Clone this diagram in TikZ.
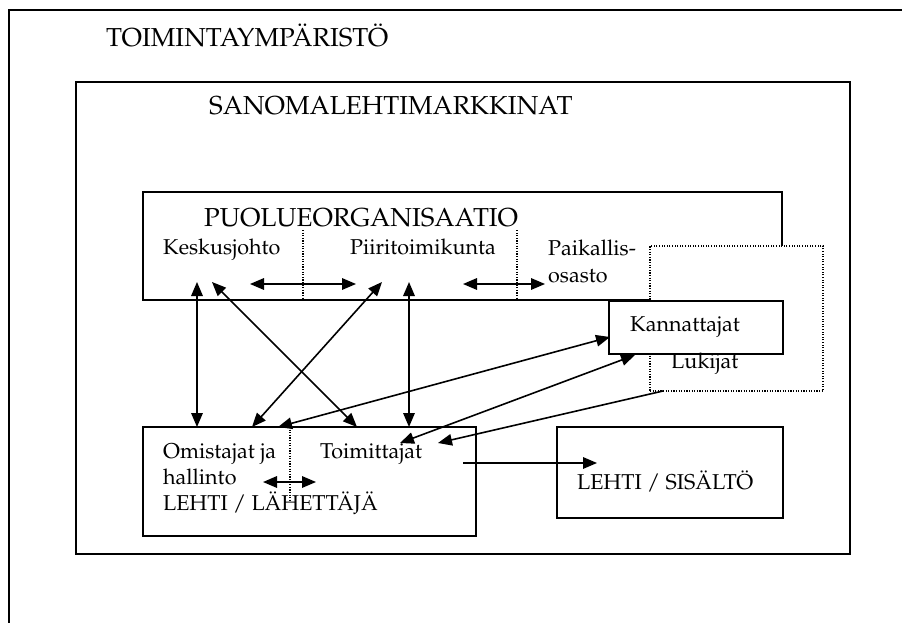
\documentclass[tikz,border=0pt]{standalone}
\usepackage[T1]{fontenc}
\usepackage{mathpazo}
\usetikzlibrary{arrows.meta}

\begin{document}
\begin{tikzpicture}[x=1pt,y=-1pt,
  frame/.style={draw, line width=1.6pt, inner sep=0pt, outer sep=0pt,
                anchor=north west, fill=white},
  dotframe/.style={frame, line width=1.1pt, dash pattern=on 1.1pt off 1.5pt},
  divider/.style={line width=1.1pt, dash pattern=on 1.1pt off 1.5pt},
  bigtxt/.style={anchor=base west, inner sep=0pt, font=\fontsize{26}{30}\selectfont},
  txt/.style={anchor=base west, inner sep=0pt, font=\fontsize{21.5}{25}\selectfont},
  both/.style={line width=1.6pt, {Triangle[length=14pt,width=11.5pt]}-{Triangle[length=14pt,width=11.5pt]}},
  single/.style={line width=1.6pt, -{Triangle[length=14pt,width=11.5pt]}}
]
\useasboundingbox (0,0) rectangle (902,623);

% operating environment: only its top and left sides fall on the page
\coordinate (envbl) at (9,623);
\coordinate (envtl) at (9,10);
\coordinate (envtr) at (902,10);
\draw[line width=1.5pt] (envbl) -- (envtl) -- (envtr);
\node[bigtxt] (envlabel) at (106,47) {TOIMINTAYMPÄRISTÖ};

% newspaper market
\node[frame, minimum width=774pt, minimum height=472pt] (market) at (76,82) {};
\node[bigtxt] (marketlabel) at (209,115) {SANOMALEHTIMARKKINAT};

% party organisation
\node[frame, minimum width=639pt, minimum height=108pt] (party) at (143,192) {};
\node[bigtxt] (partylabel) at (204,226) {PUOLUEORGANISAATIO};
\coordinate (pd1t) at (303,230);
\coordinate (pd1b) at (303,300);
\coordinate (pd2t) at (517,230);
\coordinate (pd2b) at (517,300);
\draw[divider] (pd1t) -- (pd1b);
\draw[divider] (pd2t) -- (pd2b);
\node[txt] (central) at (163,254) {Keskusjohto};
\node[txt] (district) at (350,254) {Piiritoimikunta};
\node[txt] (local1) at (548,255) {Paikallis-};
\node[txt] (local2) at (548,282) {osasto};

% readers and supporters
\node[dotframe, minimum width=173pt, minimum height=145pt] (readers) at (650,246) {};
\node[frame, minimum width=174pt, minimum height=53pt] (supporters) at (609,301) {};
\node[txt] (suplabel) at (630,331) {Kannattajat};
\node[txt] (readlabel) at (671,368) {Lukijat};

% the paper as sender
\node[frame, minimum width=333pt, minimum height=109pt] (sender) at (143,427) {};
\coordinate (sdt) at (290,427);
\coordinate (sdb) at (290,500);
\draw[divider] (sdt) -- (sdb);
\node[txt] (owners1) at (163,458) {Omistajat ja};
\node[txt] (owners2) at (163,484) {hallinto};
\node[txt] (senderlabel) at (163,510) {LEHTI / LÄHETTÄJÄ};
\node[txt] (editors) at (320,458) {Toimittajat};

% the paper as content
\node[frame, minimum width=226pt, minimum height=91pt] (content) at (557,427) {};
\node[txt] (contentlabel) at (577,489) {LEHTI / SISÄLTÖ};

% arrow end points
\coordinate (cA) at (197,282);
\coordinate (cB) at (212,282);
\coordinate (dA) at (382,282);
\coordinate (dB) at (409,282);
\coordinate (oA) at (197,427);
\coordinate (oB) at (252,427);
\coordinate (oC) at (278,427);
\coordinate (eA) at (357,427);
\coordinate (eB) at (409,427);
\coordinate (eC) at (400,443);
\coordinate (eD) at (438,443);
\coordinate (kA) at (610,337);
\coordinate (kB) at (635,355);
\coordinate (rA) at (663,391);
\coordinate (h1a) at (250,284);
\coordinate (h1b) at (356,284);
\coordinate (h2a) at (463,284);
\coordinate (h2b) at (545,284);
\coordinate (h3a) at (263,482);
\coordinate (h3b) at (316,482);
\coordinate (out) at (463,463);
\coordinate (in) at (597,463);

% connectors
\draw[both] (h1a) -- (h1b);
\draw[both] (h2a) -- (h2b);
\draw[both] (h3a) -- (h3b);
\draw[both] (cA) -- (oA);
\draw[both] (cB) -- (eA);
\draw[both] (dA) -- (oB);
\draw[both] (dB) -- (eB);
\draw[both] (oC) -- (kA);
\draw[both] (eC) -- (kB);
\draw[single] (rA) -- (eD);
\draw[single] (out) -- (in);
\end{tikzpicture}
\end{document}
